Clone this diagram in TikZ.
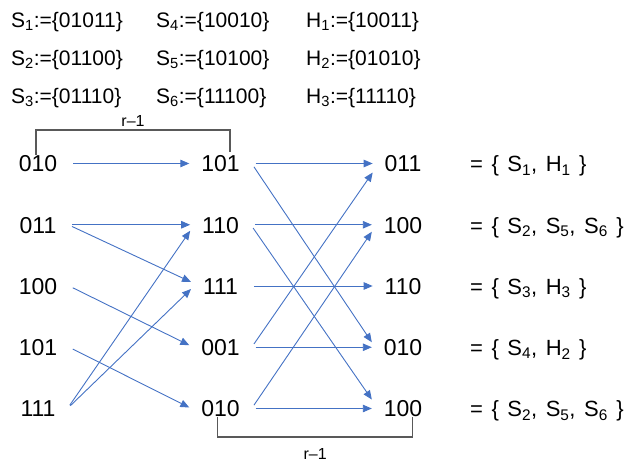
\documentclass[tikz,border=0pt]{standalone}
\usepackage{fontspec}
\setmainfont{Liberation Sans}
\usetikzlibrary{arrows.meta,positioning}
\definecolor{linkblue}{HTML}{4472C4}
\newcommand\widespaces{\spaceskip 8.5pt\relax}
\tikzset{
  >={Triangle[length=9pt,width=7.5pt]},
  head/.style={anchor=base west, inner sep=0pt, font=\fontsize{21}{25}\selectfont},
  word/.style={inner sep=0pt, outer xsep=12pt, text height=16.5pt, text depth=0pt, font=\fontsize{23}{27}\selectfont},
  set/.style={anchor=base west, inner sep=0pt, font=\fontsize{22}{26}\selectfont\widespaces},
  link/.style={->, draw=linkblue, line width=0.9pt, shorten <=4pt},
  bracket/.style={draw=black!65, line width=1.3pt},
  rlab/.style={inner sep=0pt, font=\fontsize{16}{19}\selectfont},
}

\begin{document}
\begin{tikzpicture}[x=1pt, y=1pt, node distance=61.25pt and 182.5pt, on grid]
  \useasboundingbox (0,0) rectangle (644,467);

  % the sets
  \node[head] (h1) at (11,439.7) {S\textsubscript{1}:=\{01011\}};
  \node[head] (h2) at (11,402)   {S\textsubscript{2}:=\{01100\}};
  \node[head] (h3) at (11,363.7) {S\textsubscript{3}:=\{01110\}};
  \node[head] (h4) at (156,439.7) {S\textsubscript{4}:=\{10010\}};
  \node[head] (h5) at (156,402)   {S\textsubscript{5}:=\{10100\}};
  \node[head] (h6) at (156,363.7) {S\textsubscript{6}:=\{11100\}};
  \node[head] (h7) at (306,439.7) {H\textsubscript{1}:=\{10011\}};
  \node[head] (h8) at (306,402)   {H\textsubscript{2}:=\{01010\}};
  \node[head] (h9) at (306,363.7) {H\textsubscript{3}:=\{11110\}};

  % first column
  \node[word] (a1) at (38,303.5) {010};
  \node[word, below=of a1] (a2) {011};
  \node[word, below=of a2] (a3) {100};
  \node[word, below=of a3] (a4) {101};
  \node[word, below=of a4] (a5) {111};

  % second column
  \node[word, right=of a1] (b1) {101};
  \node[word, right=of a2] (b2) {110};
  \node[word, right=of a3] (b3) {111};
  \node[word, right=of a4] (b4) {001};
  \node[word, right=of a5] (b5) {010};

  % third column
  \node[word, right=of b1] (c1) {011};
  \node[word, right=of b2] (c2) {100};
  \node[word, right=of b3] (c3) {110};
  \node[word, right=of b4] (c4) {010};
  \node[word, right=of b5] (c5) {100};

  \node[set] (e1) at ([xshift=67pt]c1.base) {= \{ S\textsubscript{1}, H\textsubscript{1} \}};
  \node[set] (e2) at ([xshift=67pt]c2.base) {= \{ S\textsubscript{2}, S\textsubscript{5}, S\textsubscript{6} \}};
  \node[set] (e3) at ([xshift=67pt]c3.base) {= \{ S\textsubscript{3}, H\textsubscript{3} \}};
  \node[set] (e4) at ([xshift=67pt]c4.base) {= \{ S\textsubscript{4}, H\textsubscript{2} \}};
  \node[set] (e5) at ([xshift=67pt]c5.base) {= \{ S\textsubscript{2}, S\textsubscript{5}, S\textsubscript{6} \}};

  \foreach \s/\t/\d in {a1/b1/0, a2/b2/0, a2/b3/4, a3/b4/2, a4/b5/1, a5/b2/-6, a5/b3/-3}{
    \draw[link] (\s.east) -- ([yshift=\d pt]\t.west);
  }
  \foreach \s/\t/\d in {b1/c1/0, b1/c4/5, b2/c2/0, b2/c5/9, b3/c3/0, b4/c1/-9, b4/c4/0, b5/c2/-7, b5/c5/0}{
    \draw[link] (\s.east) -- ([yshift=\d pt]\t.west);
  }

  \draw[bracket] ([xshift=-2pt]a1.north) |- node[rlab, pos=0.75, anchor=south, yshift=3pt] (r1) {r–1}
    ([xshift=9.5pt,yshift=25pt]b1.north) -- ([xshift=9.5pt,yshift=3pt]b1.north);
  \draw[bracket] ([xshift=-3pt]b5.south) |- node[rlab, pos=0.75, anchor=north, yshift=-11pt] (r2) {r–1}
    ([xshift=9.7pt,yshift=-20pt]c5.south) -- ([xshift=9.7pt]c5.south);
\end{tikzpicture}
\end{document}
